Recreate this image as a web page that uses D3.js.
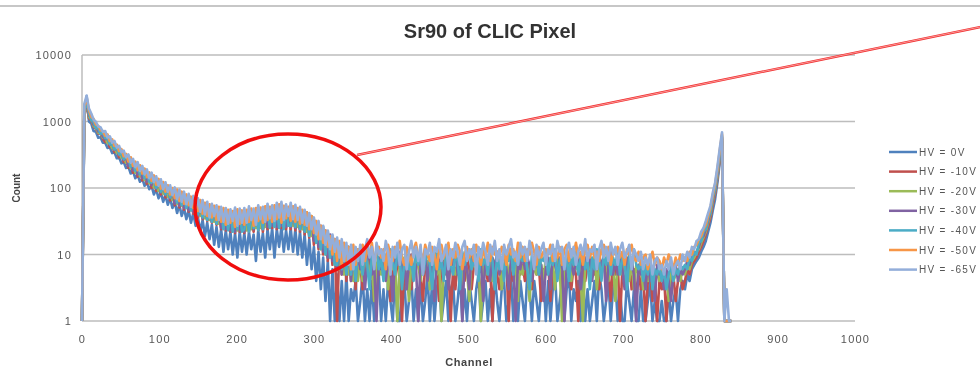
<!DOCTYPE html>
<html>
<head>
<meta charset="utf-8">
<script src="https://cdn.jsdelivr.net/npm/d3@7"></script>
<style>
  body { margin: 0; background: #fff; }
  svg { display: block; }
  text { font-family: "Liberation Sans", Arial, sans-serif; }
</style>
</head>
<body>
<svg id="svgChart" width="980" height="368"></svg>
<script>
// one value every 3 channels
var channels = d3.range(0, 843, 3);
var xTicks = [0, 100, 200, 300, 400, 500, 600, 700, 800, 900, 1000];
var yTicks = [1, 10, 100, 1000, 10000];

var seriesNames = ["HV = 0V", "HV = -10V", "HV = -20V", "HV = -30V", "HV = -40V", "HV = -50V", "HV = -65V"];
var seriesColors = ["#4f81bd", "#c0504d", "#9bbb59", "#8064a2", "#4bacc6", "#f79646", "#93aeda"];

// counts (0 = empty channel), rows of 30 channels
var hv0 = [
  0, 1150, 2400, 1000, 930, 720, 700, 570, 580, 480,
  480, 400, 410, 335, 345, 280, 290, 235, 245, 200,
  210, 165, 180, 140, 158, 124, 138, 108, 122, 96,
  108, 80, 96, 70, 86, 62, 78, 56, 70, 50,
  62, 42, 56, 38, 50, 34, 46, 30, 42, 27,
  36, 22, 33, 19, 30, 17, 28, 14, 26, 13,
  24, 11, 23, 12, 22, 10, 21, 9, 22, 11,
  21, 10, 22, 12, 20, 8, 23, 11, 21, 9,
  24, 12, 25, 9, 24, 13, 26, 11, 23, 12,
  25, 11, 24, 10, 22, 9, 20, 7, 17, 6,
  13, 4, 11, 3, 9, 2, 8, 1, 6, 0,
  5, 0, 4, 1, 5, 0, 3, 2, 4, 0,
  2, 5, 0, 3, 1, 4, 0, 3, 5, 0,
  3, 0, 4, 2, 0, 5, 1, 0, 3, 4,
  0, 2, 5, 0, 3, 1, 4, 0, 2, 5,
  1, 4, 0, 3, 5, 0, 2, 4, 0, 3,
  4, 0, 2, 5, 1, 3, 0, 4, 2, 0,
  3, 5, 0, 2, 4, 0, 3, 1, 5, 2,
  0, 3, 4, 0, 2, 5, 0, 3, 1, 4,
  2, 0, 5, 3, 0, 4, 2, 0, 3, 5,
  0, 4, 1, 3, 5, 0, 2, 4, 0, 3,
  5, 0, 3, 2, 4, 0, 5, 1, 3, 0,
  2, 4, 0, 5, 3, 0, 2, 4, 1, 3,
  4, 0, 3, 1, 0, 4, 2, 0, 3, 1,
  0, 3, 1, 0, 2, 4, 0, 2, 0, 1,
  2, 0, 1, 3, 0, 2, 3, 1, 3, 4,
  3, 5, 4, 6, 7, 8, 9, 11, 13, 16,
  22, 30, 46, 68, 120, 240, 500, 0, 0, 0,
  0
];
var hv10 = [
  0, 1300, 1800, 1120, 1040, 830, 780, 660, 650, 550,
  490, 510, 410, 430, 345, 365, 290, 315, 245, 268,
  200, 235, 170, 205, 148, 185, 130, 165, 115, 148,
  100, 133, 90, 120, 80, 108, 72, 98, 65, 89,
  55, 78, 51, 73, 47, 68, 44, 64, 41, 60,
  36, 55, 34, 51, 32, 48, 30, 46, 28, 44,
  24, 42, 23, 40, 22, 39, 21, 39, 22, 40,
  21, 40, 22, 41, 22, 42, 23, 43, 22, 44,
  24, 45, 25, 46, 24, 47, 25, 48, 24, 46,
  24, 46, 23, 44, 22, 42, 20, 39, 18, 34,
  14, 29, 12, 25, 10, 21, 8, 18, 7, 15,
  0, 14, 5, 13, 4, 12, 4, 11, 3, 10,
  7, 3, 8, 5, 9, 6, 2, 7, 5, 8,
  5, 8, 6, 2, 9, 4, 7, 6, 0, 7,
  8, 5, 3, 7, 6, 9, 5, 2, 7, 6,
  4, 9, 6, 7, 2, 6, 8, 5, 7, 0,
  6, 3, 8, 6, 7, 4, 9, 6, 3, 7,
  7, 5, 2, 8, 6, 4, 7, 0, 8, 5,
  3, 7, 6, 8, 0, 7, 4, 9, 6, 5,
  7, 4, 8, 6, 3, 9, 5, 7, 2, 6,
  5, 8, 2, 6, 9, 5, 7, 3, 6, 8,
  6, 3, 7, 5, 0, 8, 6, 4, 7, 5,
  8, 5, 7, 3, 6, 9, 4, 6, 2, 7,
  5, 8, 0, 6, 7, 4, 8, 3, 6, 2,
  6, 3, 5, 0, 4, 6, 2, 5, 0, 4,
  3, 5, 0, 4, 3, 5, 2, 4, 5, 3,
  4, 6, 5, 7, 8, 9, 11, 13, 16, 20,
  27, 36, 56, 82, 140, 270, 540, 0, 0, 0,
  0
];
var hv20 = [
  0, 1350, 1880, 1170, 1080, 850, 810, 680, 670, 565,
  570, 470, 480, 395, 405, 335, 340, 285, 290, 240,
  255, 198, 220, 170, 192, 150, 170, 132, 150, 118,
  135, 102, 120, 90, 107, 82, 96, 74, 87, 66,
  80, 58, 74, 54, 68, 50, 64, 46, 60, 43,
  56, 38, 52, 35, 49, 33, 47, 31, 44, 29,
  42, 27, 41, 25, 40, 24, 40, 23, 40, 24,
  40, 23, 41, 24, 42, 25, 43, 25, 44, 26,
  45, 26, 46, 27, 47, 26, 48, 27, 47, 28,
  47, 27, 46, 26, 44, 24, 42, 22, 38, 19,
  32, 15, 28, 12, 24, 10, 20, 9, 17, 7,
  14, 6, 13, 5, 12, 5, 11, 4, 10, 4,
  8, 4, 7, 10, 5, 8, 2, 7, 9, 5,
  7, 9, 3, 8, 6, 10, 0, 7, 5, 9,
  6, 2, 8, 5, 10, 7, 4, 9, 6, 8,
  3, 7, 9, 5, 8, 0, 7, 10, 4, 6,
  9, 5, 7, 10, 3, 8, 6, 2, 9, 7,
  6, 8, 0, 7, 5, 9, 8, 4, 7, 10,
  8, 3, 7, 9, 5, 6, 10, 7, 2, 8,
  5, 9, 7, 2, 8, 6, 5, 9, 7, 4,
  9, 7, 5, 8, 3, 10, 6, 0, 8, 5,
  7, 4, 9, 6, 8, 5, 0, 7, 9, 6,
  6, 10, 3, 7, 5, 8, 9, 4, 6, 8,
  2, 7, 9, 5, 8, 6, 4, 9, 3, 7,
  5, 7, 3, 6, 4, 7, 5, 3, 6, 4,
  6, 4, 5, 2, 6, 4, 5, 6, 4, 6,
  5, 7, 6, 8, 9, 11, 12, 15, 18, 22,
  30, 40, 62, 90, 150, 285, 560, 0, 0, 0,
  0
];
var hv30 = [
  0, 1400, 1950, 1230, 1110, 890, 840, 710, 700, 590,
  540, 555, 450, 470, 375, 395, 315, 340, 265, 290,
  215, 255, 185, 225, 160, 200, 140, 180, 125, 160,
  110, 145, 98, 130, 86, 118, 78, 106, 70, 97,
  58, 84, 54, 80, 50, 75, 46, 70, 43, 66,
  38, 60, 35, 56, 33, 52, 31, 50, 29, 48,
  25, 45, 24, 44, 23, 43, 22, 43, 23, 44,
  22, 45, 23, 46, 24, 46, 25, 47, 24, 48,
  26, 49, 27, 50, 26, 51, 27, 52, 26, 50,
  26, 49, 25, 47, 24, 45, 22, 42, 20, 37,
  16, 31, 13, 27, 11, 23, 9, 20, 8, 17,
  6, 15, 5, 14, 5, 13, 4, 12, 4, 11,
  6, 9, 3, 8, 11, 5, 7, 0, 9, 6,
  10, 4, 8, 6, 2, 9, 7, 11, 5, 8,
  3, 8, 10, 5, 7, 0, 9, 6, 11, 4,
  8, 6, 2, 9, 7, 10, 5, 8, 3, 9,
  7, 11, 5, 8, 0, 9, 6, 3, 10, 7,
  9, 5, 8, 2, 10, 7, 4, 9, 6, 11,
  5, 8, 10, 6, 3, 9, 7, 0, 8, 6,
  10, 6, 9, 7, 4, 8, 11, 5, 7, 2,
  6, 9, 3, 10, 7, 5, 9, 8, 0, 7,
  9, 7, 5, 8, 10, 3, 7, 9, 6, 10,
  4, 8, 6, 10, 7, 9, 2, 7, 11, 5,
  8, 5, 10, 6, 3, 9, 7, 8, 5, 0,
  7, 5, 6, 3, 8, 4, 6, 2, 7, 5,
  5, 3, 6, 4, 2, 5, 7, 4, 6, 5,
  6, 8, 7, 9, 10, 11, 13, 17, 19, 24,
  32, 43, 66, 95, 160, 300, 580, 0, 0, 0,
  0
];
var hv40 = [
  0, 1450, 2000, 1350, 1050, 980, 790, 800, 650, 680,
  560, 560, 455, 470, 380, 400, 320, 340, 270, 290,
  270, 210, 245, 180, 215, 160, 190, 140, 168, 125,
  120, 140, 100, 125, 88, 112, 80, 100, 72, 92,
  86, 60, 80, 55, 76, 50, 70, 46, 66, 42,
  40, 60, 36, 56, 33, 52, 31, 50, 29, 48,
  46, 24, 45, 23, 44, 22, 43, 24, 44, 22,
  24, 44, 22, 46, 25, 45, 23, 47, 24, 49,
  50, 25, 51, 26, 52, 25, 53, 24, 52, 27,
  27, 50, 26, 48, 24, 46, 22, 43, 19, 38,
  34, 15, 30, 12, 26, 10, 22, 9, 19, 7,
  7, 15, 6, 14, 5, 13, 5, 12, 4, 12,
  9, 5, 11, 7, 3, 10, 8, 12, 6, 9,
  4, 10, 7, 12, 8, 5, 11, 9, 3, 8,
  10, 6, 9, 4, 12, 7, 10, 5, 8, 11,
  7, 3, 9, 11, 6, 8, 4, 10, 12, 7,
  5, 10, 8, 3, 11, 7, 9, 12, 6, 8,
  10, 4, 12, 7, 9, 5, 11, 8, 3, 10,
  6, 9, 4, 11, 8, 12, 5, 9, 7, 10,
  8, 11, 6, 3, 10, 7, 12, 5, 9, 8,
  11, 5, 9, 7, 12, 4, 8, 10, 6, 9,
  4, 10, 7, 11, 5, 9, 12, 6, 8, 3,
  9, 6, 12, 8, 4, 10, 7, 11, 5, 9,
  7, 11, 5, 9, 8, 3, 10, 6, 12, 7,
  6, 8, 4, 7, 5, 9, 3, 6, 5, 7,
  4, 6, 3, 5, 7, 4, 6, 5, 7, 6,
  7, 6, 9, 8, 11, 10, 15, 16, 22, 24,
  35, 44, 72, 98, 172, 320, 610, 0, 0, 0,
  0
];
var hv50 = [
  0, 1700, 2250, 1480, 1180, 1090, 900, 860, 740, 720,
  610, 640, 510, 540, 430, 450, 360, 385, 300, 325,
  250, 290, 215, 250, 185, 220, 165, 195, 145, 172,
  128, 155, 112, 137, 98, 123, 88, 110, 80, 100,
  70, 95, 64, 88, 58, 80, 55, 74, 50, 68,
  45, 66, 41, 60, 38, 57, 36, 54, 33, 52,
  31, 50, 28, 47, 30, 45, 26, 48, 29, 46,
  28, 47, 31, 49, 27, 50, 32, 51, 30, 53,
  33, 52, 31, 55, 34, 57, 30, 54, 35, 52,
  32, 53, 31, 50, 29, 47, 28, 43, 24, 38,
  21, 32, 17, 27, 15, 23, 13, 19, 10, 17,
  8, 16, 7, 15, 8, 13, 6, 14, 7, 12,
  11, 14, 8, 12, 10, 15, 7, 11, 13, 9,
  12, 6, 14, 10, 8, 13, 11, 16, 9, 7,
  13, 10, 7, 12, 15, 9, 11, 8, 14, 10,
  8, 13, 10, 6, 12, 14, 9, 11, 15, 7,
  12, 9, 14, 11, 6, 10, 13, 9, 12, 8,
  14, 10, 7, 12, 9, 15, 8, 13, 10, 11,
  9, 13, 11, 7, 14, 10, 12, 8, 15, 9,
  13, 8, 12, 10, 15, 11, 7, 13, 9, 11,
  12, 10, 14, 8, 11, 9, 13, 7, 12, 14,
  8, 12, 10, 15, 9, 11, 7, 12, 14, 9,
  13, 9, 11, 8, 12, 14, 10, 13, 7, 11,
  10, 13, 9, 11, 7, 12, 10, 14, 9, 8,
  11, 7, 9, 10, 6, 8, 11, 7, 9, 8,
  6, 9, 7, 10, 8, 6, 9, 7, 10, 8,
  9, 8, 11, 10, 13, 14, 17, 19, 24, 28,
  38, 50, 78, 112, 190, 360, 650, 0, 0, 0,
  0
];
var hv65 = [
  0, 1850, 2450, 1560, 1320, 1060, 990, 840, 820, 700,
  720, 575, 600, 480, 510, 405, 430, 345, 365, 290,
  320, 240, 275, 205, 245, 180, 215, 160, 190, 140,
  170, 122, 150, 108, 135, 96, 122, 88, 110, 78,
  102, 68, 95, 62, 88, 57, 82, 52, 76, 49,
  70, 44, 66, 40, 62, 36, 58, 38, 55, 33,
  52, 31, 50, 29, 48, 32, 51, 27, 49, 30,
  50, 30, 53, 33, 49, 28, 55, 34, 52, 31,
  58, 35, 55, 32, 60, 36, 62, 33, 57, 38,
  60, 34, 56, 33, 52, 30, 47, 27, 42, 24,
  36, 20, 32, 17, 27, 14, 23, 12, 20, 11,
  18, 9, 17, 8, 15, 7, 14, 6, 13, 8,
  14, 7, 12, 17, 9, 13, 6, 15, 10, 12,
  8, 16, 11, 5, 13, 9, 15, 7, 12, 14,
  6, 11, 16, 9, 13, 8, 14, 5, 12, 10,
  15, 7, 13, 11, 17, 8, 10, 14, 6, 12,
  9, 15, 11, 7, 13, 16, 8, 12, 10, 14,
  5, 13, 9, 15, 11, 7, 14, 10, 16, 8,
  12, 6, 14, 10, 13, 17, 9, 11, 7, 15,
  10, 13, 8, 16, 11, 6, 14, 9, 12, 15,
  7, 12, 10, 14, 8, 16, 11, 13, 6, 12,
  15, 9, 13, 7, 11, 14, 10, 17, 8, 12,
  11, 14, 6, 12, 16, 9, 13, 8, 15, 10,
  13, 7, 12, 15, 9, 11, 14, 6, 12, 10,
  8, 11, 6, 9, 7, 10, 5, 8, 9, 6,
  7, 5, 8, 6, 9, 5, 7, 8, 6, 10,
  8, 11, 9, 13, 12, 16, 17, 22, 25, 32,
  42, 54, 85, 120, 210, 390, 690, 0, 3, 0,
  0
];

var allSeries = [hv0, hv10, hv20, hv30, hv40, hv50, hv65];

var svg = d3.select("#svgChart");

// the reference is a soft, slightly blurred screenshot
svg.append("defs").append("filter").attr("id", "soft")
  .append("feGaussianBlur").attr("stdDeviation", 0.7);
var root = svg.append("g").attr("filter", "url(#soft)");
root.append("rect").attr("width", 980).attr("height", 368).attr("fill", "#fff");

var x = d3.scaleLinear().domain([0, 1000]).range([82, 855]);
var y = d3.scaleLog().domain([1, 10000]).range([321, 55]);

// rule left over from the slide above the chart
root.append("line")
  .attr("x1", 0).attr("x2", 980).attr("y1", 6).attr("y2", 6)
  .attr("stroke", "#b4b4b4").attr("stroke-width", 1.5);

root.append("text")
  .attr("x", 490).attr("y", 38)
  .attr("text-anchor", "middle")
  .attr("font-size", 20).attr("font-weight", "bold")
  .attr("fill", "#333")
  .text("Sr90 of CLIC Pixel");

// gridlines at each decade
root.append("g").selectAll("line")
  .data(yTicks)
  .enter().append("line")
  .attr("x1", x(0)).attr("x2", x(1000))
  .attr("y1", function(d) { return y(d); })
  .attr("y2", function(d) { return y(d); })
  .attr("stroke", "#bdbdbd").attr("stroke-width", 1.5);

root.append("line")
  .attr("x1", x(0)).attr("x2", x(0)).attr("y1", y(10000)).attr("y2", y(1))
  .attr("stroke", "#bdbdbd").attr("stroke-width", 1.5);

var yAxis = d3.axisLeft(y).tickValues(yTicks).tickFormat(d3.format("d")).tickSize(0).tickPadding(10);
root.append("g").attr("transform", "translate(" + x(0) + ",0)").call(yAxis)
  .call(function(g) { g.select(".domain").remove(); })
  .selectAll("text").attr("font-size", 11).attr("fill", "#555")
  .attr("letter-spacing", "1.2px")
  .attr("font-family", "Liberation Sans, Arial, sans-serif");

var xAxis = d3.axisBottom(x).tickValues(xTicks).tickFormat(d3.format("d")).tickSize(0).tickPadding(14);
root.append("g").attr("transform", "translate(0," + y(1) + ")").call(xAxis)
  .call(function(g) { g.select(".domain").remove(); })
  .selectAll("text").attr("font-size", 11).attr("fill", "#555")
  .attr("letter-spacing", "1.2px")
  .attr("font-family", "Liberation Sans, Arial, sans-serif");

root.append("text")
  .attr("transform", "translate(20,188) rotate(-90)")
  .attr("text-anchor", "middle")
  .attr("font-size", 10).attr("font-weight", "bold").attr("fill", "#444")
  .text("Count");

root.append("text")
  .attr("x", 469).attr("y", 366)
  .attr("text-anchor", "middle")
  .attr("font-size", 11).attr("font-weight", "bold").attr("fill", "#444")
  .attr("letter-spacing", "0.6px")
  .text("Channel");

// series, first drawn at the back as in the original
var line = d3.line()
  .defined(function(d, i) { return i < channels.length; })
  .x(function(d, i) { return x(channels[i]); })
  .y(function(d) { return y(Math.max(d, 1)); });

root.append("g").selectAll("path")
  .data(allSeries)
  .enter().append("path")
  .attr("d", line)
  .attr("fill", "none")
  .attr("stroke", function(d, i) { return seriesColors[i]; })
  .attr("stroke-width", 2.6)
  .attr("stroke-linejoin", "round");

// legend
var legend = root.append("g").selectAll("g")
  .data(seriesNames)
  .enter().append("g")
  .attr("transform", function(d, i) { return "translate(889," + (152 + i * 19.6) + ")"; });

legend.append("line")
  .attr("x1", 0).attr("x2", 28)
  .attr("stroke", function(d, i) { return seriesColors[i]; })
  .attr("stroke-width", 2.5);

legend.append("text")
  .attr("x", 30).attr("y", 3.5)
  .attr("font-size", 10).attr("fill", "#555")
  .attr("letter-spacing", "1.3px")
  .text(function(d) { return d; });

// red annotation drawn over the chart
root.append("ellipse")
  .attr("cx", 288).attr("cy", 207).attr("rx", 93).attr("ry", 73)
  .attr("fill", "none").attr("stroke", "#f01010").attr("stroke-width", 3.5);

root.append("line")
  .attr("x1", 357).attr("y1", 155).attr("x2", 985).attr("y2", 26)
  .attr("stroke", "#f03030").attr("stroke-width", 2.5);
root.append("line")
  .attr("x1", 357).attr("y1", 155).attr("x2", 985).attr("y2", 26)
  .attr("stroke", "#ffb0b0").attr("stroke-width", 0.8);
</script>
</body>
</html>
